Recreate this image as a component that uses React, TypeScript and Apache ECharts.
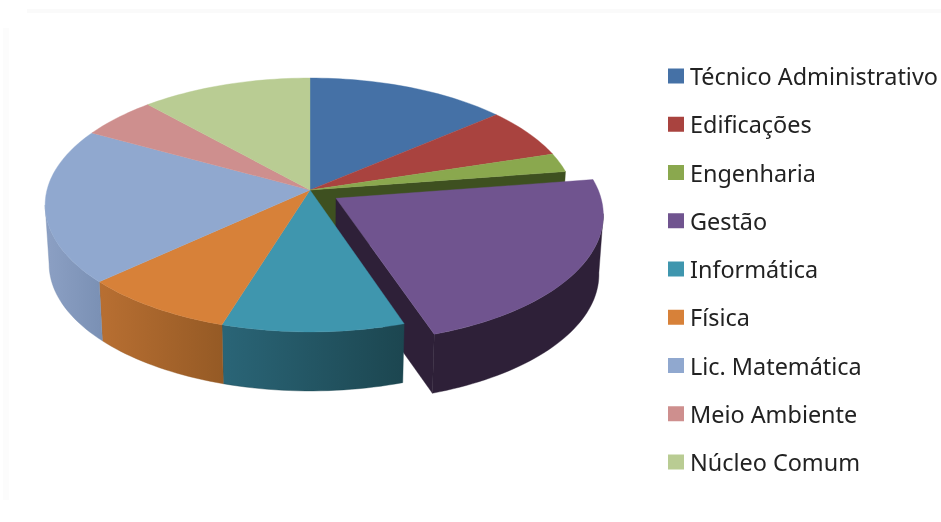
import React, { useEffect, useRef } from "react";
import * as echarts from "echarts";

const categories = ["Técnico Administrativo", "Edificações", "Engenharia", "Gestão", "Informática", "Física", "Lic. Matemática", "Meio Ambiente", "Núcleo Comum"];
const values = [13.8, 6.4, 2.4, 22.25, 9.95, 8.4, 19.8, 5.3, 11.7];
const topColors = ["#4571A6", "#A9433F", "#8AA84E", "#70548F", "#3F96AE", "#D78139", "#90A8CF", "#CE8F8E", "#B9CC93"];
const wallFrom = ["#2F4F75", "#762E2C", "#3E5020", "#2E2038", "#2A6577", "#B86F32", "#8CA0C4", "#8F6362", "#81906A"];
const wallTo = ["#2F4F75", "#762E2C", "#3E5020", "#2E2038", "#1C4650", "#955A25", "#7A90B4", "#8F6362", "#81906A"];
const explodedIndex = 3;

const CX = 310, CY = 190, A = 263, B = 125.2, K = 0.118, H = 59;
const EXPLODE_U = 0.098, EXPLODE_V = 0.066;
const total = values.reduce((s, v) => s + v, 0);

function project(u: number, v: number, drop: number): number[] {
  const w = 1 - K * v;
  let x = CX + (A * u) / w;
  if (drop) x = CX + (x - CX) * 0.985;
  return [x, CY + (B * v) / w + drop];
}
function rim(deg: number, drop: number, ou: number, ov: number): number[] {
  const t = (deg * Math.PI) / 180;
  return project(Math.sin(t) + ou, -Math.cos(t) + ov, drop);
}
function arc(from: number, to: number, drop: number, ou: number, ov: number): number[][] {
  const n = Math.max(2, Math.ceil(Math.abs(to - from) / 1.5));
  const pts: number[][] = [];
  for (let i = 0; i <= n; i++) pts.push(rim(from + ((to - from) * i) / n, drop, ou, ov));
  return pts;
}

function renderSlice(index: number) {
  let before = 0;
  for (let i = 0; i < index; i++) before += values[i];
  const start = (before / total) * 360;
  const end = ((before + values[index]) / total) * 360;
  const exploded = index === explodedIndex;
  const ou = exploded ? EXPLODE_U : 0;
  const ov = exploded ? EXPLODE_V : 0;
  const apexTop = project(ou, ov, 0);
  const apexBottom = project(ou, ov, H);
  const children: any[] = [];
  const fill = topColors[index];

  const wStart = Math.max(start, 96.8);
  const wEnd = Math.min(end, 263.2);
  if (wEnd > wStart) {
    const top = arc(wStart, wEnd, 0, ou, ov);
    const bottom = arc(wEnd, wStart, H, ou, ov);
    children.push({
      type: "polygon",
      z2: exploded ? 2 : 3,
      shape: { points: top.concat(bottom) },
      style: {
        fill: { type: "linear", x: 0, y: 0, x2: 1, y2: 0, colorStops: [
          { offset: 0, color: wallFrom[index] },
          { offset: 1, color: wallTo[index] },
        ] },
        stroke: wallTo[index], lineWidth: 0.4,
      },
    });
  }
  if (exploded || index === explodedIndex - 1) {
    const edge = rim(end, 0, ou, ov);
    const edgeBottom = rim(end, H, ou, ov);
    children.push({
      type: "polygon",
      z2: exploded ? 2 : 1,
      shape: { points: [apexTop, edge, edgeBottom, apexBottom] },
      style: { fill: wallFrom[index], stroke: wallFrom[index], lineWidth: 0.4 },
    });
  }
  children.push({
    type: "polygon",
    z2: exploded ? 4 : 3,
    shape: { points: [apexTop].concat(arc(start, end, 0, ou, ov)) },
    style: { fill, stroke: fill, lineWidth: 0.4 },
  });
  return { type: "group", children };
}

export default function App() {
  const ref = useRef<HTMLDivElement>(null);
  useEffect(() => {
    document.body.style.margin = "0";
    const chart = echarts.init(ref.current!, null, { renderer: "svg" });
    chart.setOption({
      animation: false,
      backgroundColor: "#ffffff",
      graphic: [
        { type: "rect", shape: { x: 27, y: 9, width: 914, height: 4 }, style: { fill: "#fafafa" }, silent: true },
        { type: "rect", shape: { x: 3, y: 28, width: 6, height: 472 }, style: { fill: "#fcfcfc" }, silent: true },
      ],
      legend: {
        orient: "vertical",
        left: 668,
        top: 64,
        padding: 0,
        itemWidth: 16,
        itemHeight: 15,
        itemGap: 24.25,
        icon: "rect",
        selectedMode: false,
        data: categories,
        textStyle: { fontFamily: "Noto Sans", fontSize: 23.4, color: "#222222", lineHeight: 24, padding: [0, 0, 0, 1] },
      },
      series: categories.map((name, index) => ({
        type: "custom",
        name,
        coordinateSystem: "none",
        silent: true,
        itemStyle: { color: topColors[index] },
        data: [values[index]],
        renderItem: () => renderSlice(index),
      })),
    });
    return () => chart.dispose();
  }, []);
  return <div ref={ref} style={{ width: 941, height: 522, filter: "blur(0.4px)" }} />;
}
